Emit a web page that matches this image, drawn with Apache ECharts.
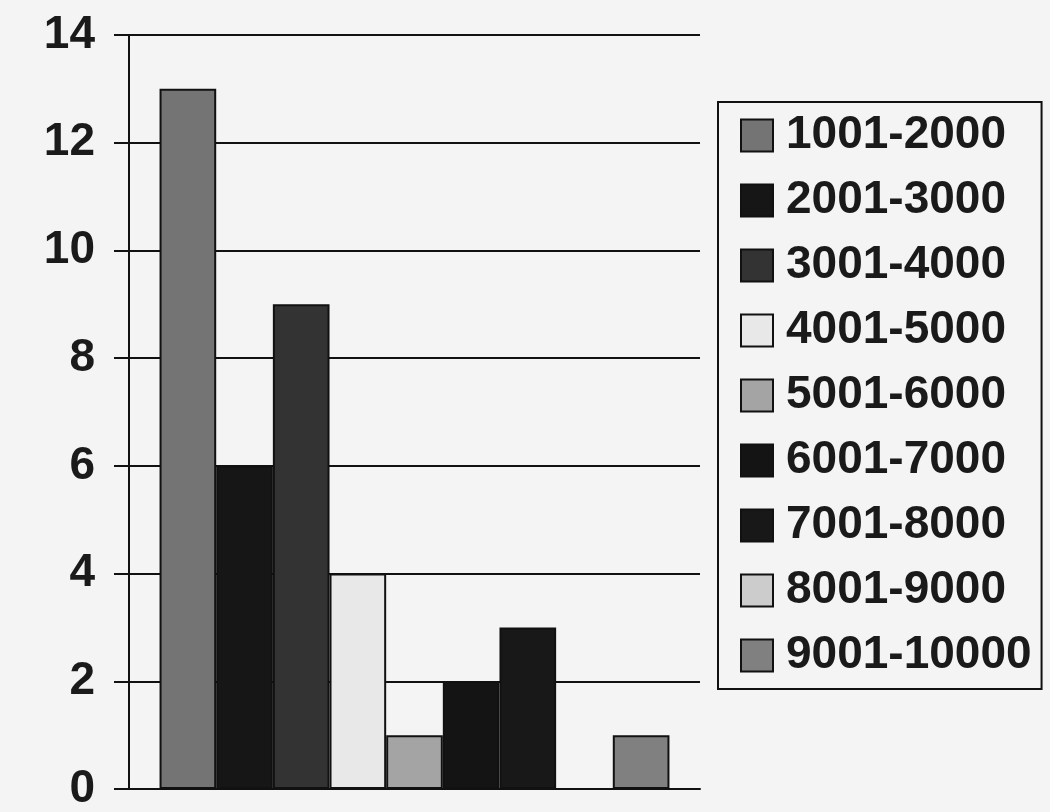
<!DOCTYPE html>
<html>
<head>
<meta charset="utf-8">
<script src="https://cdn.jsdelivr.net/npm/echarts@6/dist/echarts.min.js"></script>
<style>html,body{margin:0;padding:0;background:#f4f4f4;}#c{width:1050px;height:812px;}</style>
</head>
<body>
<div id="c"></div>
<script>
const ranges = ['1001-2000','2001-3000','3001-4000','4001-5000','5001-6000','6001-7000','7001-8000','8001-9000','9001-10000'];
const counts = [13, 6, 9, 4, 1, 2, 3, 0, 1];
const yTicks = [0, 2, 4, 6, 8, 10, 12, 14];
const colors = ['#747474','#161616','#333333','#e8e8e8','#a4a4a4','#141414','#181818','#cccccc','#808080'];

const chart = echarts.init(document.getElementById('c'), null, {renderer:'canvas'});
const series = ranges.map((name, i) => ({
  name: name,
  type: 'bar',
  data: [counts[i]],
  barGap: '0%',
  barCategoryGap: '10.7%',
  itemStyle: { color: colors[i], borderColor: '#111', borderWidth: 2 }
}));
chart.setOption({
  backgroundColor: '#f4f4f4',
  animation: false,
  grid: { left: 129, right: 350, top: 35, bottom: 22, containLabel: false },
  legend: {
    orient: 'vertical',
    left: 718, top: 102,
    itemWidth: 32, itemHeight: 32, itemGap: 18,
    padding: [10, 10, 10, 22],
    borderColor: '#111', borderWidth: 2,
    icon: 'rect',
    itemStyle: { borderColor: '#111', borderWidth: 2 },
    textStyle: { fontFamily: 'Liberation Sans, Arial, sans-serif', fontSize: 46, fontWeight: 'bold', color: '#1a1a1a', lineHeight: 47, padding: [0,0,0,8] },
    data: ranges
  },
  xAxis: {
    type: 'category',
    data: [''],
    axisLine: { show: true, lineStyle: { color: '#111', width: 2 } },
    axisTick: { show: false },
    axisLabel: { show: false }
  },
  yAxis: {
    type: 'value',
    min: yTicks[0], max: yTicks[yTicks.length-1], interval: 2,
    axisLine: { show: true, lineStyle: { color: '#111', width: 2 } },
    axisTick: { show: true, length: 15, lineStyle: { color: '#111', width: 2 } },
    axisLabel: { fontFamily: 'Liberation Sans, Arial, sans-serif', fontSize: 46, fontWeight: 'bold', color: '#1a1a1a', margin: 34 },
    splitLine: { show: true, lineStyle: { color: '#111', width: 2 } }
  },
  series: series
});
</script>
</body>
</html>
